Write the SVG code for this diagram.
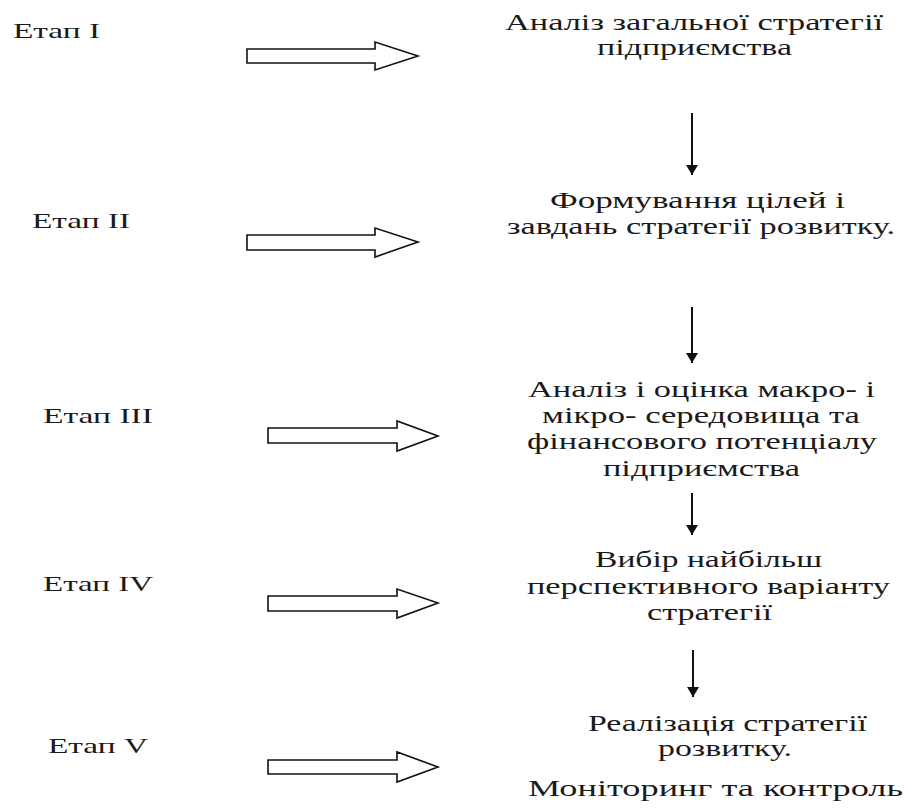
<svg xmlns="http://www.w3.org/2000/svg" width="904" height="808" viewBox="0 0 904 808">
<style>
  .lbl { font-family: "Liberation Serif", "Times New Roman", serif; font-size: 21px; fill: #1a1a1a; }
  .txt { font-family: "Liberation Serif", "Times New Roman", serif; font-size: 24px; fill: #1a1a1a; }
  .block { fill: #fff; stroke: #111; stroke-width: 1.6; stroke-linejoin: miter; }
  .vline { stroke: #111; stroke-width: 2; fill: none; }
</style>
<defs>
  <marker id="ah" markerUnits="userSpaceOnUse" markerWidth="10" markerHeight="12" viewBox="0 0 10 12" refX="10" refY="6" orient="auto">
    <path d="M0,0 L10,6 L0,12 z" fill="#111"/>
  </marker>
</defs>
<rect width="904" height="808" fill="#fff"/>

<g id="stage1">
  <text class="lbl" x="13" y="38" textLength="87" lengthAdjust="spacingAndGlyphs">Етап I</text>
</g>
<g id="stage2">
  <text class="lbl" x="32" y="228" textLength="98" lengthAdjust="spacingAndGlyphs">Етап II</text>
</g>
<g id="stage3">
  <text class="lbl" x="43" y="423" textLength="110" lengthAdjust="spacingAndGlyphs">Етап III</text>
</g>
<g id="stage4">
  <text class="lbl" x="43" y="591" textLength="110" lengthAdjust="spacingAndGlyphs">Етап IV</text>
</g>
<g id="stage5">
  <text class="lbl" x="48" y="753" textLength="100" lengthAdjust="spacingAndGlyphs">Етап V</text>
</g>

<g id="step1">
  <text class="txt" x="505" y="30" textLength="378" lengthAdjust="spacingAndGlyphs">Аналіз загальної стратегії</text>
  <text class="txt" x="597" y="55" textLength="195" lengthAdjust="spacingAndGlyphs">підприємства</text>
</g>
<g id="step2">
  <text class="txt" x="550" y="208" textLength="295" lengthAdjust="spacingAndGlyphs">Формування цілей і</text>
  <text class="txt" x="507" y="234" textLength="388" lengthAdjust="spacingAndGlyphs">завдань стратегії розвитку.</text>
</g>
<g id="step3">
  <text class="txt" x="528" y="397" textLength="347" lengthAdjust="spacingAndGlyphs">Аналіз і оцінка макро- і</text>
  <text class="txt" x="542" y="423" textLength="318" lengthAdjust="spacingAndGlyphs">мікро- середовища та</text>
  <text class="txt" x="527" y="449" textLength="350" lengthAdjust="spacingAndGlyphs">фінансового потенціалу</text>
  <text class="txt" x="603" y="476" textLength="197" lengthAdjust="spacingAndGlyphs">підприємства</text>
</g>
<g id="step4">
  <text class="txt" x="595" y="567" textLength="227" lengthAdjust="spacingAndGlyphs">Вибір найбільш</text>
  <text class="txt" x="527" y="594" textLength="363" lengthAdjust="spacingAndGlyphs">перспективного варіанту</text>
  <text class="txt" x="647" y="620" textLength="125" lengthAdjust="spacingAndGlyphs">стратегії</text>
</g>
<g id="step5">
  <text class="txt" x="588" y="731" textLength="279" lengthAdjust="spacingAndGlyphs">Реалізація стратегії</text>
  <text class="txt" x="658" y="756" textLength="134" lengthAdjust="spacingAndGlyphs">розвитку.</text>
  <text class="txt" x="528" y="796" textLength="375" lengthAdjust="spacingAndGlyphs">Моніторинг та контроль</text>
</g>

<g id="connectors">
  <polygon class="block" points="247,49 375,49 375,42 418,56 375,70 375,63 247,63"/>
  <polygon class="block" points="247,235 375,235 375,228 418,242 375,257 375,250 247,250"/>
  <polygon class="block" points="268,428 397,428 397,421 438,436 397,451 397,443 268,443"/>
  <polygon class="block" points="268,596 397,596 397,589 438,603 397,618 397,611 268,611"/>
  <polygon class="block" points="268,760 397,760 397,752 438,767 397,782 397,774 268,774"/>
  <line class="vline" x1="692" y1="113" x2="692" y2="175" marker-end="url(#ah)"/>
  <line class="vline" x1="692" y1="307" x2="692" y2="363" marker-end="url(#ah)"/>
  <line class="vline" x1="692" y1="493" x2="692" y2="535" marker-end="url(#ah)"/>
  <line class="vline" x1="693" y1="650" x2="693" y2="697" marker-end="url(#ah)"/>
</g>
</svg>
